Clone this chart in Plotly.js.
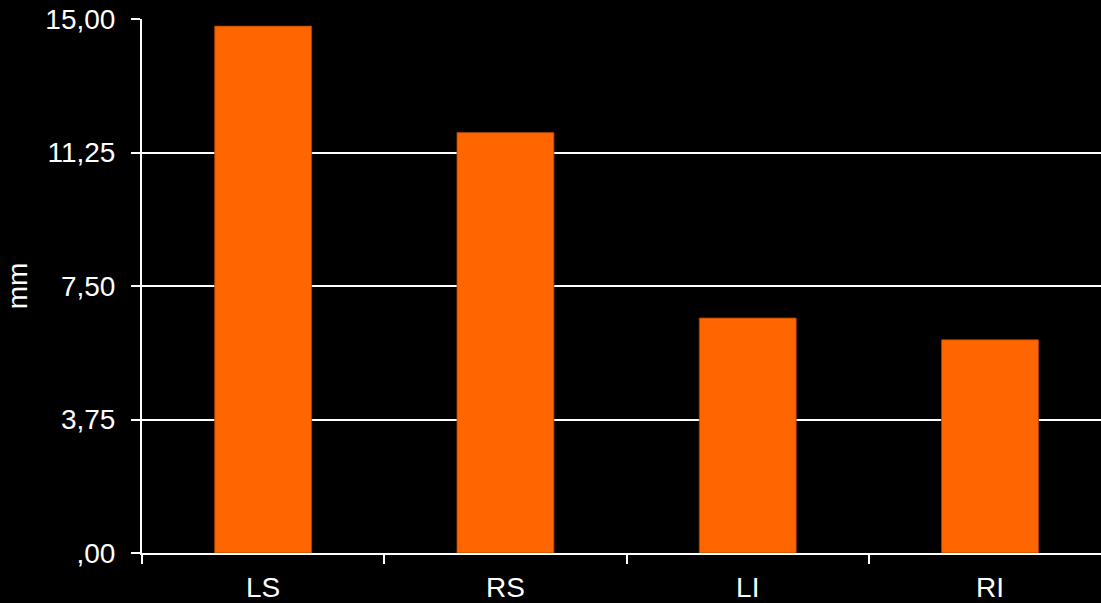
<!DOCTYPE html>
<html>
<head>
<meta charset="utf-8">
<script src="https://cdn.plot.ly/plotly-3.0.1.min.js"></script>
<style>
  html, body { margin: 0; padding: 0; background: #000; }
  #chart { width: 1101px; height: 603px; }
</style>
</head>
<body>
<div id="chart"></div>
<script>
// Measured values per position (mm)
const categories = ["LS", "RS", "LI", "RI"];
const values = [14.80, 11.81, 6.60, 5.99];

// Y axis ticks with comma decimal labels
const yTickVals = [0, 3.75, 7.5, 11.25, 15];
const yTickText = [",00", "3,75", "7,50", "11,25", "15,00"];

const font = "Liberation Sans, Arial, sans-serif";
const textSize = 28;

const trace = {
  type: "bar",
  x: categories,
  y: values,
  marker: { color: "#FF6600", line: { color: "#a84300", width: 0.8 } },
  hoverinfo: "x+y"
};

const layout = {
  width: 1101,
  height: 603,
  paper_bgcolor: "#000000",
  plot_bgcolor: "#000000",
  margin: { l: 142, r: 0, t: 19, b: 50 },
  bargap: 0.6,
  showlegend: false,
  font: { family: font, size: textSize, color: "#ffffff" },
  xaxis: {
    type: "category",
    range: [-0.5, 3.458],
    showgrid: false,
    zeroline: false,
    showline: true,
    linecolor: "#ffffff",
    linewidth: 2,
    ticks: "outside",
    tickson: "boundaries",
    ticklen: 9,
    tickwidth: 2,
    tickcolor: "#ffffff",
    ticklabelstandoff: 8,
    tickfont: { family: font, size: textSize, color: "#ffffff" },
    fixedrange: true
  },
  yaxis: {
    range: [0, 15],
    tickvals: yTickVals,
    ticktext: yTickText,
    showgrid: true,
    gridcolor: "#ffffff",
    gridwidth: 2,
    zeroline: false,
    showline: true,
    linecolor: "#ffffff",
    linewidth: 2,
    ticks: "outside",
    ticklen: 9,
    tickwidth: 2,
    tickcolor: "#ffffff",
    ticklabelstandoff: 10,
    tickfont: { family: font, size: textSize, color: "#ffffff" },
    title: { text: "mm", font: { family: font, size: textSize, color: "#ffffff" }, standoff: 10 },
    fixedrange: true
  }
};

Plotly.newPlot("chart", [trace], layout, { staticPlot: true });
</script>
</body>
</html>
